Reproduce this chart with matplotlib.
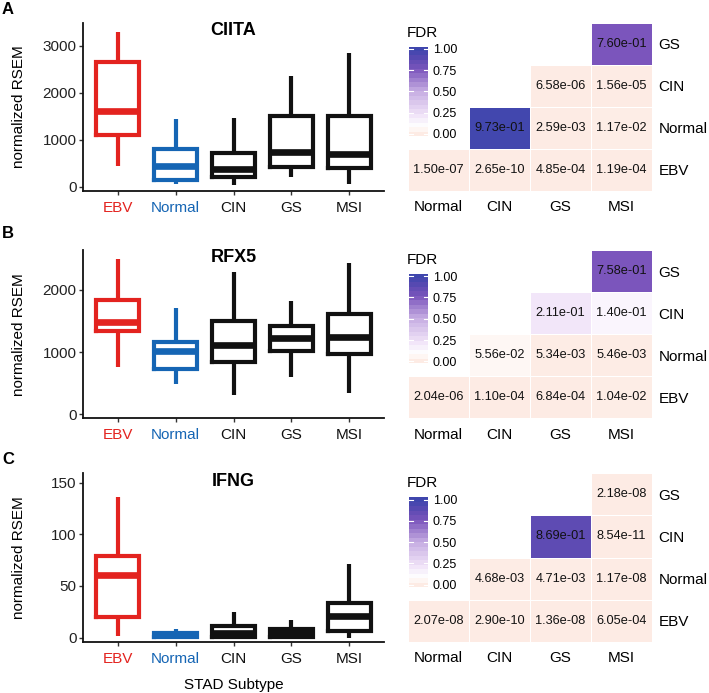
import numpy as np
import matplotlib
matplotlib.use("Agg")
import matplotlib.pyplot as plt
from matplotlib.colors import LinearSegmentedColormap

plt.rcParams['font.family'] = ['Liberation Sans', 'DejaVu Sans']

nan = np.nan

subtypes = ['EBV', 'Normal', 'CIN', 'GS', 'MSI']
genes = ['CIITA', 'RFX5', 'IFNG']
panel_letters = ['A', 'B', 'C']

# box stats: lower whisker, Q1, median, Q3, upper whisker
ciita_low = [445, 57, 35, 212, 64]
ciita_q1 = [1110, 149, 219, 431, 410]
ciita_med = [1620, 452, 375, 750, 694]
ciita_q3 = [2660, 807, 715, 1507, 1507]
ciita_high = [3285, 1437, 1458, 2357, 2851]

rfx5_low = [767, 483, 311, 595, 338]
rfx5_q1 = [1346, 724, 847, 1024, 971]
rfx5_med = [1480, 1019, 1115, 1223, 1239]
rfx5_q3 = [1839, 1158, 1501, 1421, 1609]
rfx5_high = [2493, 1716, 2284, 1828, 2440]

ifng_low = [1.6, 0, 0, 0, 0]
ifng_q1 = [20.3, 0.3, 1.0, 1.0, 6.5]
ifng_med = [60.6, 2.6, 4.8, 4.2, 21]
ifng_q3 = [79, 4.8, 11.0, 8.4, 33.9]
ifng_high = [136.5, 8.7, 25.2, 17.1, 71]

y_ticks = [[0, 1000, 2000, 3000], [0, 1000, 2000], [0, 50, 100, 150]]

# pairwise FDR, rows bottom to top
heat_cols = ['Normal', 'CIN', 'GS', 'MSI']
heat_rows = ['EBV', 'Normal', 'CIN', 'GS']
fdr_ciita = [
    [1.50e-07, 2.65e-10, 4.85e-04, 1.19e-04],
    [nan, 9.73e-01, 2.59e-03, 1.17e-02],
    [nan, nan, 6.58e-06, 1.56e-05],
    [nan, nan, nan, 7.60e-01],
]
fdr_rfx5 = [
    [2.04e-06, 1.10e-04, 6.84e-04, 1.04e-02],
    [nan, 5.56e-02, 5.34e-03, 5.46e-03],
    [nan, nan, 2.11e-01, 1.40e-01],
    [nan, nan, nan, 7.58e-01],
]
fdr_ifng = [
    [2.07e-08, 2.90e-10, 1.36e-08, 6.05e-04],
    [nan, 4.68e-03, 4.71e-03, 1.17e-08],
    [nan, nan, 8.69e-01, 8.54e-11],
    [nan, nan, nan, 2.18e-08],
]

boxes = [
    (ciita_low, ciita_q1, ciita_med, ciita_q3, ciita_high),
    (rfx5_low, rfx5_q1, rfx5_med, rfx5_q3, rfx5_high),
    (ifng_low, ifng_q1, ifng_med, ifng_q3, ifng_high),
]
fdrs = [fdr_ciita, fdr_rfx5, fdr_ifng]

# ---- layout (pixels) ----
W, H = 709, 693
subtype_colors = ['#E3231F', '#1565B4', '#111111', '#111111', '#111111']
row_spans = [(22.7, 190.7), (250, 418.3), (473.3, 641.7)]
y_limits = [(-79, 3488), (-64, 2641), (-3.9, 159)]

fdr_cmap = LinearSegmentedColormap.from_list('fdr', [
    (0.0, '#FDEBE4'), (0.09, '#FFFFFF'), (0.21, '#F2E6F9'), (0.5, '#C7AEE3'),
    (0.76, '#7B55BC'), (0.87, '#5E4BB3'), (0.97, '#4347AE'), (1.0, '#3F46AD')])


def rect(left, top, right, bottom):
    return [left / W, 1 - bottom / H, (right - left) / W, (bottom - top) / H]


fig = plt.figure(figsize=(W / 100, H / 100), dpi=100)

for k in range(3):
    top, bottom = row_spans[k]

    # ---- boxplot ----
    ax = fig.add_axes(rect(83, top, 384, bottom))
    lo, q1, md, q3, hi = boxes[k]
    stats = [dict(whislo=a, q1=b, med=c, q3=d, whishi=e, label=name)
             for a, b, c, d, e, name in zip(lo, q1, md, q3, hi, subtypes)]
    bp = ax.bxp(stats, positions=range(1, 6), widths=0.75, showcaps=False,
                showfliers=False)
    for i, c in enumerate(subtype_colors):
        bp['boxes'][i].set(color=c, linewidth=3, solid_joinstyle='miter')
        bp['medians'][i].set(color=c, linewidth=4.8, solid_capstyle='butt')
        for w in bp['whiskers'][2 * i:2 * i + 2]:
            w.set(color=c, linewidth=3, solid_capstyle='butt')
    ax.set_xlim(0.4, 5.6)
    ax.set_ylim(*y_limits[k])
    ax.set_yticks(y_ticks[k])
    for side in ['top', 'right']:
        ax.spines[side].set_visible(False)
    for side in ['left', 'bottom']:
        ax.spines[side].set_linewidth(1.3)
        ax.spines[side].set_color('#111111')
    ax.tick_params(axis='x', length=3, width=1, pad=4.3, labelsize=11, color='#333333')
    ax.tick_params(axis='y', length=3, width=1, pad=1.7, labelsize=11, color='#333333')
    for lbl, c in zip(ax.get_xticklabels(), subtype_colors):
        lbl.set_color(c)
    for lbl in ax.get_yticklabels():
        lbl.set_color('#222222')
    ax.text(0.5, 1 - 8 / (bottom - top), genes[k], transform=ax.transAxes,
            ha='center', va='center', fontsize=13, fontweight='bold')
    fig.text(19 / W, 1 - (top + bottom) / 2 / H, 'normalized RSEM', rotation=90,
             ha='center', va='center', fontsize=11)
    fig.text(8 / W, 1 - [10, 234, 459][k] / H, panel_letters[k], ha='center',
             va='center', fontsize=12, fontweight='bold')

    # ---- FDR heatmap ----
    hx = fig.add_axes(rect(408, top, 652, bottom))
    data = np.ma.masked_invalid(np.array(fdrs[k]))
    hx.pcolormesh(np.arange(5), np.arange(5), data, cmap=fdr_cmap, vmin=0, vmax=1,
                  edgecolors='white', linewidth=0.6)
    for i in range(4):
        for j in range(4):
            v = fdrs[k][i][j]
            if not np.isnan(v):
                hx.text(j + 0.5, i + 0.5, f'{v:.2e}', ha='center', va='center',
                        fontsize=9.2, color='#111111')
    hx.set_xlim(0, 4)
    hx.set_ylim(0, 4)
    hx.set_xticks(np.arange(4) + 0.5, heat_cols)
    hx.set_yticks(np.arange(4) + 0.5, heat_rows)
    hx.yaxis.tick_right()
    hx.tick_params(axis='x', length=0, pad=7, labelsize=11)
    hx.tick_params(axis='y', length=0, pad=4.5, labelsize=11)
    for s in hx.spines.values():
        s.set_visible(False)

    # colorbar legend inside the empty corner
    cax = fig.add_axes(rect(409, top + 24, 428, top + 113.5))
    half = 0.5 / 19
    cax.imshow(np.linspace(0, 1, 20)[:, None], cmap=fdr_cmap, vmin=0, vmax=1,
               origin='lower', aspect='auto', extent=(0, 1, -half, 1 + half),
               interpolation='nearest')
    cax.set_xlim(0, 1)
    cax.set_ylim(-half, 1 + half)
    bar_ticks = [0, 0.25, 0.5, 0.75, 1.0]
    for t in bar_ticks:
        cax.plot([0, 0.2], [t, t], color='white', linewidth=0.8)
        cax.plot([0.8, 1], [t, t], color='white', linewidth=0.8)
    cax.set_xticks([])
    cax.yaxis.tick_right()
    cax.set_yticks(bar_ticks, [f'{t:.2f}' for t in bar_ticks])
    cax.tick_params(axis='y', length=0, pad=3.6, labelsize=9)
    for s in cax.spines.values():
        s.set_visible(False)
    fig.text(407 / W, 1 - (top + 10) / H, 'FDR', ha='left', va='center', fontsize=11)

fig.text(233.5 / W, 1 - 685 / H, 'STAD Subtype', ha='center', va='center', fontsize=11)

fig.savefig('out.png', dpi=100)
